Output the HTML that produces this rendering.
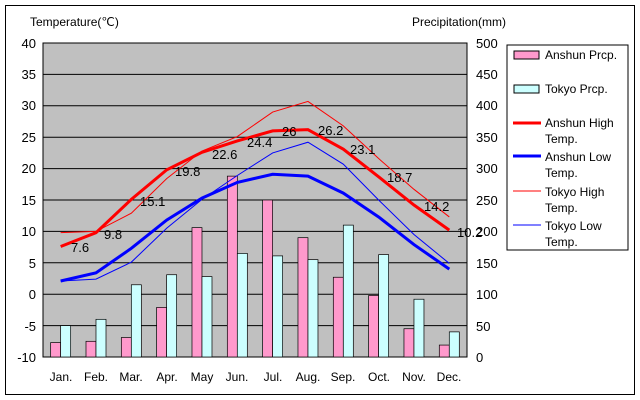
<!DOCTYPE html><html><head><style>body{margin:0;background:#fff}svg{display:block;font-family:"Liberation Sans",sans-serif}</style></head><body>
<svg id="s" width="640" height="400" xmlns="http://www.w3.org/2000/svg">
<rect x="5.5" y="5.5" width="629" height="389" fill="#fff" stroke="#000"/>
<rect x="43" y="43" width="424" height="314" fill="#c0c0c0" stroke="#000"/>
<g id="grid"></g><g id="bars"></g><g id="lines"></g>
<g font-size="13" text-anchor="end" fill="#000">
<text x="36" y="48">40</text><text x="36" y="110">30</text><text x="36" y="79">35</text><text x="36" y="142">25</text><text x="36" y="173">20</text><text x="36" y="205">15</text><text x="36" y="236">10</text><text x="36" y="268">5</text><text x="36" y="299">0</text><text x="36" y="331">-5</text><text x="36" y="362">-10</text>
</g>
<g font-size="13" text-anchor="start">
<text x="476" y="48">500</text><text x="476" y="79">450</text><text x="476" y="110">400</text><text x="476" y="142">350</text><text x="476" y="173">300</text><text x="476" y="205">250</text><text x="476" y="236">200</text><text x="476" y="268">150</text><text x="476" y="299">100</text><text x="476" y="331">50</text><text x="476" y="362">0</text>
</g>
<text x="30" y="26" font-size="12">Temperature(℃)</text>
<text x="412" y="26" font-size="12">Precipitation(mm)</text>
<g font-size="12" text-anchor="middle">
<text x="61" y="381">Jan.</text><text x="96" y="381">Feb.</text><text x="131" y="381">Mar.</text><text x="167" y="381">Apr.</text><text x="202" y="381">May</text><text x="237" y="381">Jun.</text><text x="273" y="381">Jul.</text><text x="308" y="381">Aug.</text><text x="343" y="381">Sep.</text><text x="379" y="381">Oct.</text><text x="414" y="381">Nov.</text><text x="449" y="381">Dec.</text>
</g>
<g font-size="13" fill="#000">
<text x="71" y="252">7.6</text><text x="104" y="239">9.8</text><text x="140" y="206">15.1</text><text x="175" y="176">19.8</text><text x="212" y="159">22.6</text><text x="247" y="147">24.4</text><text x="282" y="136">26</text><text x="318" y="135">26.2</text><text x="350" y="154">23.1</text><text x="387" y="182">18.7</text><text x="424" y="211">14.2</text><text x="457" y="237">10.2</text>
</g>
<rect x="507" y="45" width="121" height="205" fill="#fff" stroke="#000"/>
<rect x="514" y="51" width="25" height="8" fill="#ff99cc" stroke="#000"/>
<rect x="514" y="85" width="25" height="8" fill="#ccffff" stroke="#000"/>
<line x1="513" y1="123" x2="541" y2="123" stroke="#f00" stroke-width="3"/>
<line x1="513" y1="156" x2="541" y2="156" stroke="#00f" stroke-width="3"/>
<line x1="513" y1="191" x2="541" y2="191" stroke="#f00" stroke-width="1"/>
<line x1="513" y1="225" x2="541" y2="225" stroke="#00f" stroke-width="1"/>
<g font-size="12">
<text x="545" y="59">Anshun Prcp.</text><text x="545" y="93">Tokyo Prcp.</text>
<text x="545" y="127">Anshun High</text><text x="545" y="143">Temp.</text>
<text x="545" y="161">Anshun Low</text><text x="545" y="177">Temp.</text>
<text x="545" y="196">Tokyo High</text><text x="545" y="212">Temp.</text>
<text x="545" y="230">Tokyo Low</text><text x="545" y="246">Temp.</text>
</g>
</svg>
<script>
var ns="http://www.w3.org/2000/svg";
function el(p,t,a){var e=document.createElementNS(ns,t);for(var k in a)e.setAttribute(k,a[k]);document.getElementById(p).appendChild(e);}
function Y(t){return 357-(t+10)*6.28;}
function X(i){return 43+35.33*(i+0.5);}
for(var t=-5;t<=35;t+=5)el("grid","line",{x1:43,x2:467,y1:Y(t),y2:Y(t),stroke:"#000","stroke-width":1});
var ap=[23,25,31,79,206,288,250,190,127,98,45,19],tp=[50,60,115,131,128,165,161,155,210,163,92,40];
for(var i=0;i<12;i++){
el("bars","rect",{x:X(i)-10,y:357-ap[i]*0.628,width:10,height:ap[i]*0.628,fill:"#ff99cc",stroke:"#000","stroke-width":0.7});
el("bars","rect",{x:X(i),y:357-tp[i]*0.628,width:10,height:tp[i]*0.628,fill:"#ccffff",stroke:"#000","stroke-width":0.7});}
function ln(d,c,w){el("lines","polyline",{points:d.map(function(v,i){return X(i)+","+Y(v)}).join(" "),fill:"none",stroke:c,"stroke-width":w});}
ln([9.8,10,12.9,18.4,22.8,25.1,29,30.7,26.8,21.6,16.7,12.3],"#f00",1);
ln([2.1,2.4,5.1,10.5,15.1,18.9,22.5,24.2,20.7,15.0,9.5,4.9],"#00f",1);
ln([7.6,9.8,15.1,19.8,22.6,24.4,26,26.2,23.1,18.7,14.2,10.2],"#f00",3);
ln([2.1,3.4,7.3,11.8,15.3,17.8,19.1,18.8,16.1,12.3,7.9,4.0],"#00f",3);
</script>
</body></html>
